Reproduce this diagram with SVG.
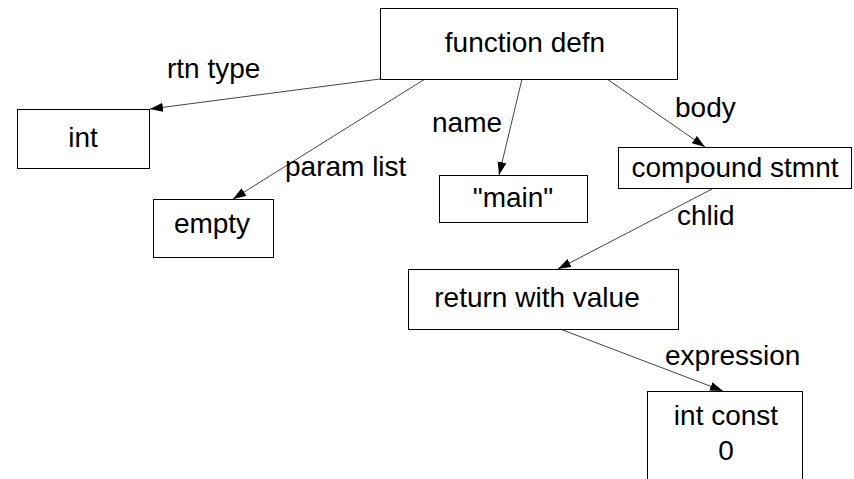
<svg xmlns="http://www.w3.org/2000/svg" width="854" height="479" viewBox="0 0 854 479">
<style>
.box{fill:#fff;stroke:#000;stroke-width:1}
.t{font-family:"Liberation Sans",Arial,sans-serif;font-size:28px;fill:#000}
.c{text-anchor:middle}
.e{stroke:#444;stroke-width:1;fill:none;marker-end:url(#ah)}
</style>
<defs>
<marker id="ah" markerUnits="userSpaceOnUse" markerWidth="14" markerHeight="10" refX="13" refY="4.5" orient="auto">
<path d="M0,0 L13,4.5 L0,9 z" fill="#000"/>
</marker>
</defs>
<rect width="854" height="479" fill="#fff"/>
<g id="connectors">
<line class="e" x1="380" y1="79" x2="150" y2="109"/>
<line class="e" x1="425" y1="79" x2="233" y2="199"/>
<line class="e" x1="522" y1="79" x2="499" y2="175"/>
<line class="e" x1="607" y1="79" x2="705" y2="147"/>
<line class="e" x1="712" y1="189" x2="558" y2="269"/>
<line class="e" x1="560" y1="329" x2="723" y2="391"/>
<text class="t" x="167" y="78">rtn type</text>
<text class="t" x="285" y="176">param list</text>
<text class="t" x="432" y="132">name</text>
<text class="t" x="675" y="117">body</text>
<text class="t" x="677" y="225">chlid</text>
<text class="t" x="665" y="365">expression</text>
</g>
<g id="function-defn">
<rect class="box" x="380.5" y="8.5" width="297" height="71"/>
<text class="t c" x="525" y="52">function defn</text>
</g>
<g id="int">
<rect class="box" x="17.5" y="109.5" width="132" height="59"/>
<text class="t c" x="83" y="147">int</text>
</g>
<g id="empty">
<rect class="box" x="153.5" y="199.5" width="120" height="58"/>
<text class="t c" x="212" y="233">empty</text>
</g>
<g id="main">
<rect class="box" x="439.5" y="175.5" width="148" height="47"/>
<text class="t c" x="513" y="207">"main"</text>
</g>
<g id="compound-stmnt">
<rect class="box" x="618.5" y="147.5" width="233" height="41"/>
<text class="t c" x="735" y="177">compound stmnt</text>
</g>
<g id="return-with-value">
<rect class="box" x="408.5" y="269.5" width="270" height="60"/>
<text class="t c" x="537" y="307">return with value</text>
</g>
<g id="int-const">
<rect class="box" x="647.5" y="391.5" width="155" height="100"/>
<text class="t c" x="726" y="425">int const</text>
<text class="t c" x="726" y="460">0</text>
</g>
</svg>
